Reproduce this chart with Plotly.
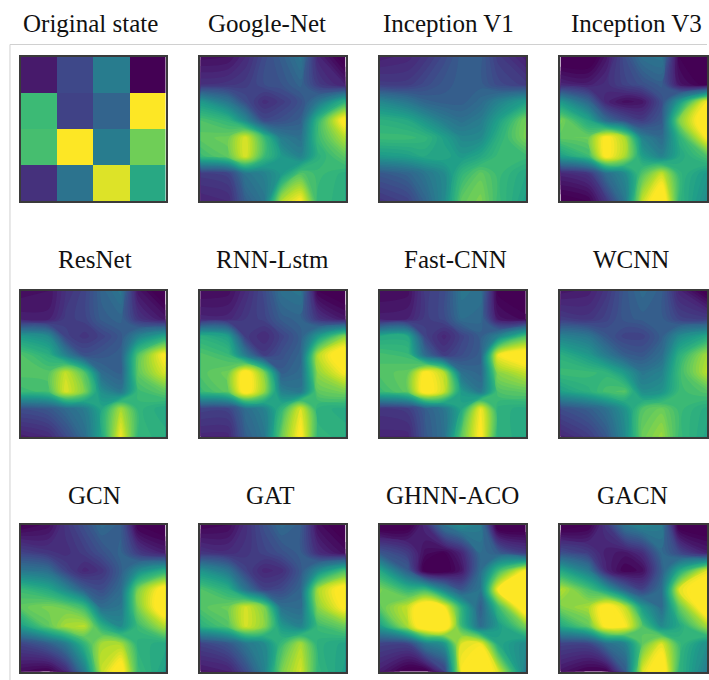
import plotly.graph_objects as go

titles = ["Original state", "Google-Net", "Inception V1", "Inception V3",
          "ResNet", "RNN-Lstm", "Fast-CNN", "WCNN",
          "GCN", "GAT", "GHNN-ACO", "GACN"]

original_state = [
    [.07, .22, .42, .0],
    [.68, .2, .32, 1.0],
    [.7, 1.0, .42, .78],
    [.14, .38, .95, .6],
]
google_net = [
    [.08, .09, .15, .24, .30, .38, .14, .01],
    [.17, .18, .2, .25, .27, .32, .2, .12],
    [.5, .38, .25, .16, .2, .26, .38, .6],
    [.65, .6, .45, .24, .26, .3, .6, .95],
    [.68, .7, .85, .62, .4, .36, .62, .8],
    [.62, .68, .85, .62, .5, .42, .58, .68],
    [.2, .22, .38, .42, .5, .66, .62, .58],
    [.13, .15, .3, .38, .8, .9, .6, .58],
]
inception_v1 = [
    [.12, .14, .18, .24, .3, .3, .2, .12],
    [.2, .2, .24, .28, .3, .3, .24, .2],
    [.44, .38, .32, .3, .3, .34, .42, .52],
    [.58, .55, .48, .4, .36, .4, .52, .72],
    [.62, .62, .6, .52, .44, .45, .58, .72],
    [.5, .52, .55, .55, .5, .55, .62, .62],
    [.28, .32, .38, .45, .6, .68, .62, .55],
    [.18, .22, .32, .45, .68, .72, .62, .52],
]
inception_v3 = [
    [.0, .0, .1, .25, .36, .38, .05, .0],
    [.14, .12, .16, .22, .26, .3, .1, .03],
    [.5, .33, .14, .08, .1, .25, .5, .9],
    [.72, .55, .35, .25, .2, .28, .72, 1.0],
    [.68, .7, .92, .78, .42, .34, .58, .9],
    [.52, .62, .92, .78, .52, .42, .55, .65],
    [.14, .18, .35, .45, .66, .82, .6, .5],
    [.02, .05, .18, .38, .82, 1.0, .6, .45],
]
resnet = [
    [.08, .09, .17, .22, .32, .38, .1, .0],
    [.12, .12, .2, .22, .3, .32, .18, .1],
    [.5, .45, .22, .18, .22, .28, .42, .55],
    [.66, .58, .42, .26, .28, .3, .66, .92],
    [.66, .66, .82, .66, .34, .3, .68, .85],
    [.62, .64, .85, .72, .46, .38, .62, .68],
    [.25, .28, .34, .4, .55, .78, .6, .55],
    [.12, .15, .24, .35, .55, .88, .6, .58],
]
rnn_lstm = [
    [.07, .08, .15, .24, .36, .38, .05, .0],
    [.14, .14, .19, .22, .3, .32, .18, .1],
    [.58, .52, .2, .15, .22, .3, .5, .75],
    [.66, .62, .4, .2, .26, .32, .8, 1.0],
    [.66, .7, .95, .72, .3, .34, .75, .9],
    [.62, .68, .95, .75, .42, .38, .68, .72],
    [.22, .22, .35, .42, .6, .85, .58, .56],
    [.14, .14, .3, .38, .7, .92, .6, .58],
]
fast_cnn = [
    [.07, .08, .2, .24, .38, .36, .04, .0],
    [.12, .13, .2, .24, .35, .34, .1, .06],
    [.55, .55, .22, .14, .22, .3, .42, .65],
    [.64, .62, .35, .2, .25, .3, .88, .98],
    [.66, .68, .92, .8, .36, .32, .74, .82],
    [.62, .68, .95, .82, .5, .38, .65, .68],
    [.18, .2, .3, .38, .55, .88, .58, .56],
    [.14, .14, .28, .36, .68, .92, .58, .56],
]
wcnn = [
    [.1, .12, .18, .28, .34, .3, .14, .02],
    [.2, .18, .22, .28, .3, .3, .22, .2],
    [.42, .38, .28, .22, .22, .3, .45, .55],
    [.58, .5, .4, .3, .28, .35, .58, .78],
    [.62, .62, .6, .5, .38, .42, .62, .8],
    [.52, .58, .64, .66, .46, .48, .62, .66],
    [.25, .3, .36, .48, .66, .7, .62, .56],
    [.14, .2, .28, .45, .7, .76, .62, .54],
]
gcn = [
    [.04, .08, .18, .26, .34, .3, .04, .0],
    [.22, .18, .16, .2, .26, .32, .2, .12],
    [.38, .35, .22, .14, .18, .3, .45, .58],
    [.62, .55, .45, .3, .25, .34, .72, .96],
    [.68, .72, .7, .62, .35, .38, .72, 1.0],
    [.52, .68, .78, .8, .58, .45, .62, .8],
    [.22, .3, .4, .6, .78, .78, .58, .56],
    [.07, .04, .14, .4, .82, .96, .62, .52],
]
gat = [
    [.05, .07, .16, .26, .34, .3, .08, .0],
    [.18, .16, .18, .22, .26, .3, .16, .08],
    [.48, .38, .22, .14, .16, .28, .45, .65],
    [.66, .58, .38, .22, .24, .32, .78, .96],
    [.66, .7, .84, .72, .36, .34, .74, .92],
    [.58, .66, .84, .74, .5, .42, .62, .7],
    [.22, .28, .38, .45, .62, .78, .58, .54],
    [.1, .12, .24, .42, .72, .84, .6, .52],
]
ghnn_aco = [
    [.0, .02, .15, .38, .46, .4, .0, .0],
    [.28, .2, .08, .05, .14, .35, .3, .2],
    [.55, .3, .02, .02, .1, .35, .62, .9],
    [.72, .6, .62, .42, .28, .38, .9, 1.0],
    [.68, .82, 1.0, .9, .58, .3, .62, 1.0],
    [.52, .78, 1.0, 1.0, .62, .35, .5, .72],
    [.22, .22, .4, .48, .85, .88, .55, .45],
    [.12, .02, .02, .2, .9, 1.0, .85, .4],
]
gacn = [
    [.0, .04, .18, .38, .44, .4, .02, .0],
    [.26, .2, .12, .1, .16, .34, .24, .12],
    [.55, .4, .14, .05, .08, .3, .55, .85],
    [.8, .65, .52, .32, .22, .35, .85, 1.0],
    [.72, .78, .95, .82, .5, .35, .68, 1.0],
    [.55, .68, .92, .9, .66, .45, .55, .78],
    [.22, .22, .35, .42, .68, .85, .62, .46],
    [.1, .04, .04, .28, .85, 1.0, .6, .4],
]
panels = [original_state, google_net, inception_v1, inception_v3,
          resnet, rnn_lstm, fast_cnn, wcnn,
          gcn, gat, ghnn_aco, gacn]

sample_pos = [0, .19, .31, .44, .56, .69, .81, 1]

W, H = 709, 680
col_px = [(21, 166), (201, 346.5), (381, 527.3), (562, 709)]
row_px = [(57, 201), (291, 436.7), (525, 671.7)]
title_x = [91, 268, 450, 638, 95, 273, 457, 633, 95, 271, 454, 634]
title_y = [24, 24, 24, 24, 259, 259, 259, 259, 495, 495, 495, 495]

fig = go.Figure()
layout = {}
ann = []
for i, z in enumerate(panels):
    r, c = divmod(i, 4)
    n = "" if i == 0 else str(i + 1)
    if i == 0:
        fig.add_trace(go.Heatmap(
            z=z, x=[.125, .375, .625, .875], y=[.125, .375, .625, .875],
            xaxis="x" + n, yaxis="y" + n, colorscale="Viridis",
            zmin=0, zmax=1, showscale=False, hoverinfo="skip"))
    else:
        fig.add_trace(go.Contour(
            z=z, x=sample_pos, y=sample_pos, xaxis="x" + n, yaxis="y" + n,
            colorscale="Viridis", zmin=0.04, zmax=0.9, showscale=False,
            autocontour=False,
            contours=dict(coloring="fill", start=0.05, end=0.91, size=0.02, showlines=False),
            line=dict(width=0, smoothing=1.0), hoverinfo="skip"))
    ax = dict(showticklabels=False, ticks="", showgrid=False, zeroline=False,
              mirror=True, showline=True, linecolor="#3a3a3a", linewidth=2)
    layout["xaxis" + n] = dict(ax, domain=[col_px[c][0] / W, col_px[c][1] / W],
                               range=[0, 1], anchor="y" + n)
    layout["yaxis" + n] = dict(ax, domain=[1 - row_px[r][1] / H, 1 - row_px[r][0] / H],
                               range=[1, 0], anchor="x" + n)
    ann.append(dict(text=titles[i], x=title_x[i] / W, y=1 - title_y[i] / H,
                    xref="paper", yref="paper", xanchor="center", yanchor="middle",
                    showarrow=False, font=dict(family="Liberation Serif", size=25, color="#111111")))

shapes = [
    dict(type="line", xref="paper", yref="paper", x0=10 / W, x1=1, y0=1 - 44.5 / H, y1=1 - 44.5 / H,
         line=dict(color="#d0d0d0", width=1), layer="below"),
    dict(type="line", xref="paper", yref="paper", x0=10 / W, x1=10 / W, y0=1 - 44.5 / H, y1=0,
         line=dict(color="#d0d0d0", width=1), layer="below"),
]
fig.update_layout(width=W, height=H, margin=dict(l=0, r=0, t=0, b=0),
                  paper_bgcolor="white", plot_bgcolor="white",
                  annotations=ann, shapes=shapes, **layout)
fig.write_html("out.html", post_script="document.body.style.margin='0';document.documentElement.style.overflow='hidden';",
               config={"displayModeBar": False})
